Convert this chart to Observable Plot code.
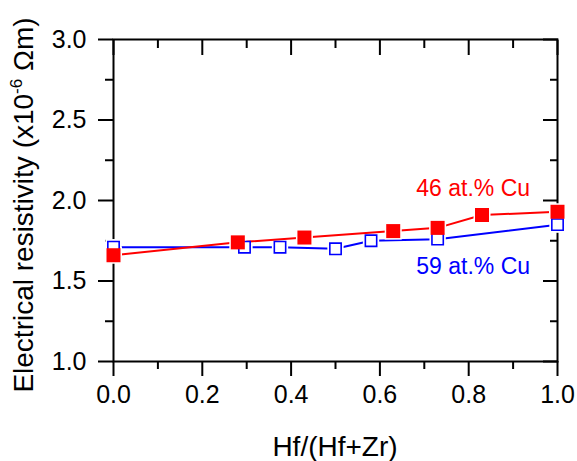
<!DOCTYPE html>
<html>
<head>
<meta charset="utf-8">
<script src="https://cdn.jsdelivr.net/npm/d3@7"></script>
<script src="https://cdn.jsdelivr.net/npm/@observablehq/plot@0.6"></script>
<style>
  html, body { margin: 0; padding: 0; background: #fff; }
  #chart svg { display: block; font-family: "Liberation Sans", Arial, sans-serif; }
</style>
</head>
<body>
<div id="chart"></div>
<script>
// Series: 46 at.% Cu (red, filled squares)
const x46 = [0, 0.28, 0.43, 0.63, 0.73, 0.83, 1.0];
const y46 = [1.66, 1.74, 1.77, 1.81, 1.83, 1.91, 1.93];
// Series: 59 at.% Cu (blue, open squares)
const x59 = [0, 0.295, 0.375, 0.50, 0.58, 0.73, 1.0];
const y59 = [1.71, 1.71, 1.71, 1.70, 1.75, 1.76, 1.85];

const seriesNames = ["46 at.% Cu", "59 at.% Cu"];
const labelX = [0.81, 0.81];
const labelY = [2.076, 1.587];

const xMajor = [0, 0.2, 0.4, 0.6, 0.8, 1.0];
const xMinor = [0.1, 0.3, 0.5, 0.7, 0.9];
const yMajor = [1.0, 1.5, 2.0, 2.5, 3.0];
const yMinor = [1.25, 1.75, 2.25, 2.75];

const xTitle = "Hf/(Hf+Zr)";
const yTitleMain = "Electrical resistivity (x10";
const yTitleSup = "-6";
const yTitleEnd = " \u03A9m)";

const RED = "#ff0000", BLUE = "#0000ff";

const d46 = x46.map((x, i) => ({x, y: y46[i]}));
const d59 = x59.map((x, i) => ({x, y: y59[i]}));
const labels = seriesNames.map((t, i) => ({t, x: labelX[i], y: labelY[i]}));
const fmt = d3.format(".1f");
const blank = () => "";

const plot = Plot.plot({
  width: 577,
  height: 461,
  marginLeft: 113,
  marginRight: 20,
  marginTop: 39,
  marginBottom: 100,
  style: {color: "black", fontFamily: "'Liberation Sans', Arial, sans-serif", background: "white"},
  x: {domain: [0, 1]},
  y: {domain: [1, 3]},
  marks: [
    // axes ticks
    Plot.axisX(xMajor, {anchor: "bottom", tickSize: 15, tickPadding: 9, tickFormat: fmt, fontSize: 25, strokeWidth: 2, label: null}),
    Plot.axisX(xMinor, {anchor: "bottom", tickSize: 8, tickFormat: blank, strokeWidth: 2, label: null}),
    Plot.axisX(xMajor, {anchor: "top", tickSize: -15, tickFormat: blank, strokeWidth: 2, label: null}),
    Plot.axisX(xMinor, {anchor: "top", tickSize: -8, tickFormat: blank, strokeWidth: 2, label: null}),
    Plot.axisY(yMajor, {anchor: "left", tickSize: 15, tickPadding: 12, tickFormat: fmt, fontSize: 25, strokeWidth: 2, label: null}),
    Plot.axisY(yMinor, {anchor: "left", tickSize: 8, tickFormat: blank, strokeWidth: 2, label: null}),
    Plot.axisY(yMajor, {anchor: "right", tickSize: -15, tickFormat: blank, strokeWidth: 2, label: null}),
    Plot.axisY(yMinor, {anchor: "right", tickSize: -8, tickFormat: blank, strokeWidth: 2, label: null}),
    Plot.frame({stroke: "black", strokeWidth: 2}),
    // blue series line + gaps
    Plot.line(d59, {x: "x", y: "y", stroke: BLUE, strokeWidth: 2}),
    Plot.dot(d59, {x: "x", y: "y", symbol: "square", r: 9.2, fill: "white"}),
    // red series line + gaps
    Plot.line(d46, {x: "x", y: "y", stroke: RED, strokeWidth: 2}),
    Plot.dot(d46, {x: "x", y: "y", symbol: "square", r: 9.6, fill: "white"}),
    // markers
    Plot.dot(d59, {x: "x", y: "y", symbol: "square", r: 6.4, fill: "white", stroke: BLUE, strokeWidth: 1.6}),
    Plot.dot(d46, {x: "x", y: "y", symbol: "square", r: 7.9, fill: RED}),
    // series labels
    Plot.text(labels, {x: "x", y: "y", text: "t", fill: (d, i) => i === 0 ? RED : BLUE, fontSize: 23})
  ]
});

document.getElementById("chart").appendChild(plot);

const svg = d3.select(plot);
// X title
svg.append("text")
  .attr("x", 335).attr("y", 456)
  .attr("text-anchor", "middle")
  .attr("font-size", 28)
  .attr("fill", "black")
  .text(xTitle);
// Y title
const yt = svg.append("text")
  .attr("transform", "translate(33,205) rotate(-90)")
  .attr("text-anchor", "middle")
  .attr("font-size", 28)
  .attr("fill", "black");
yt.append("tspan").text(yTitleMain);
yt.append("tspan").attr("font-size", 17).attr("dy", -11).text(yTitleSup);
yt.append("tspan").attr("dy", 11).text(yTitleEnd);
</script>
</body>
</html>
